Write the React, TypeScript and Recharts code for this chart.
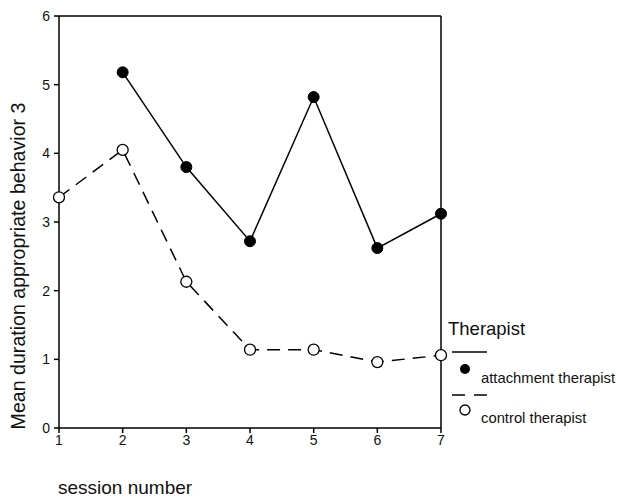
import React from 'react';
import { LineChart, Line, XAxis, YAxis, ReferenceLine } from 'recharts';

const sessions = [1, 2, 3, 4, 5, 6, 7];
const attachment = [null, 5.18, 3.8, 2.72, 4.82, 2.62, 3.12];
const control = [3.36, 4.05, 2.13, 1.14, 1.14, 0.96, 1.06];
const yTicks = [0, 1, 2, 3, 4, 5, 6];

const data = sessions.map((s, i) => ({ session: s, attachment: attachment[i], control: control[i] }));

const FONT = '"Liberation Sans", Arial, sans-serif';

const FilledDot = (props: any) => {
  const { cx, cy } = props;
  if (cx == null || cy == null) return null;
  return <circle cx={cx} cy={cy} r={5.5} fill="#000" stroke="#000" />;
};

const OpenDot = (props: any) => {
  const { cx, cy } = props;
  if (cx == null || cy == null) return null;
  return <circle cx={cx} cy={cy} r={5.5} fill="#fff" stroke="#000" strokeWidth={1.3} />;
};

// legend drawn beside the chart, like the original figure
const LegendBox = () => (
  <svg width={170} height={120} style={{ position: 'absolute', left: 447, top: 315 }}>
    <text x={1} y={20} fontSize={18.5} fill="#111" fontFamily={FONT}>Therapist</text>
    <line x1={5} y1={37} x2={40} y2={37} stroke="#000" strokeWidth={1.5} />
    <circle cx={18} cy={54} r={5} fill="#000" />
    <text x={34} y={68} fontSize={14.8} fill="#111" fontFamily={FONT}>attachment therapist</text>
    <line x1={5} y1={80} x2={40} y2={80} stroke="#000" strokeWidth={1.5} strokeDasharray="13 9" />
    <circle cx={18} cy={95} r={5} fill="#fff" stroke="#000" strokeWidth={1.3} />
    <text x={34} y={108} fontSize={14.8} fill="#111" fontFamily={FONT}>control therapist</text>
  </svg>
);

export default function App() {
  return (
    <div style={{ position: 'absolute', left: 0, top: 0, width: 617, height: 497, background: '#fff' }}>
      <LineChart width={617} height={497} data={data} margin={{ top: 16, right: 176, left: 19, bottom: 39 }}>
        <XAxis
          dataKey="session"
          type="number"
          domain={[1, 7]}
          ticks={sessions}
          height={30}
          tickSize={5}
          tickMargin={2}
          stroke="#000"
          strokeWidth={1.5}
          tick={{ fill: '#111', fontSize: 14, fontFamily: FONT }}
          label={{
            content: () => (
              <text x={58} y={494} fontSize={19} fontFamily={FONT} fill="#111">session number</text>
            ),
          }}
        />
        <YAxis
          type="number"
          domain={[0, 6]}
          ticks={yTicks}
          width={40}
          tickSize={5}
          tickMargin={4}
          stroke="#000"
          strokeWidth={1.5}
          tick={{ fill: '#111', fontSize: 14, fontFamily: FONT }}
          label={{
            content: () => (
              <text
                x={18}
                y={266}
                transform="rotate(-90, 18, 266)"
                textAnchor="middle"
                dominantBaseline="central"
                fontSize={19.6}
                fontFamily={FONT}
                fill="#111"
              >
                Mean duration appropriate behavior 3
              </text>
            ),
          }}
        />
        <ReferenceLine y={6} stroke="#000" strokeWidth={1.5} />
        <ReferenceLine x={7} stroke="#000" strokeWidth={1.5} />
        <Line
          dataKey="control"
          stroke="#000"
          strokeWidth={1.5}
          strokeDasharray="13 8"
          dot={<OpenDot />}
          isAnimationActive={false}
        />
        <Line
          dataKey="attachment"
          stroke="#000"
          strokeWidth={1.5}
          dot={<FilledDot />}
          isAnimationActive={false}
        />
      </LineChart>
      <LegendBox />
    </div>
  );
}
